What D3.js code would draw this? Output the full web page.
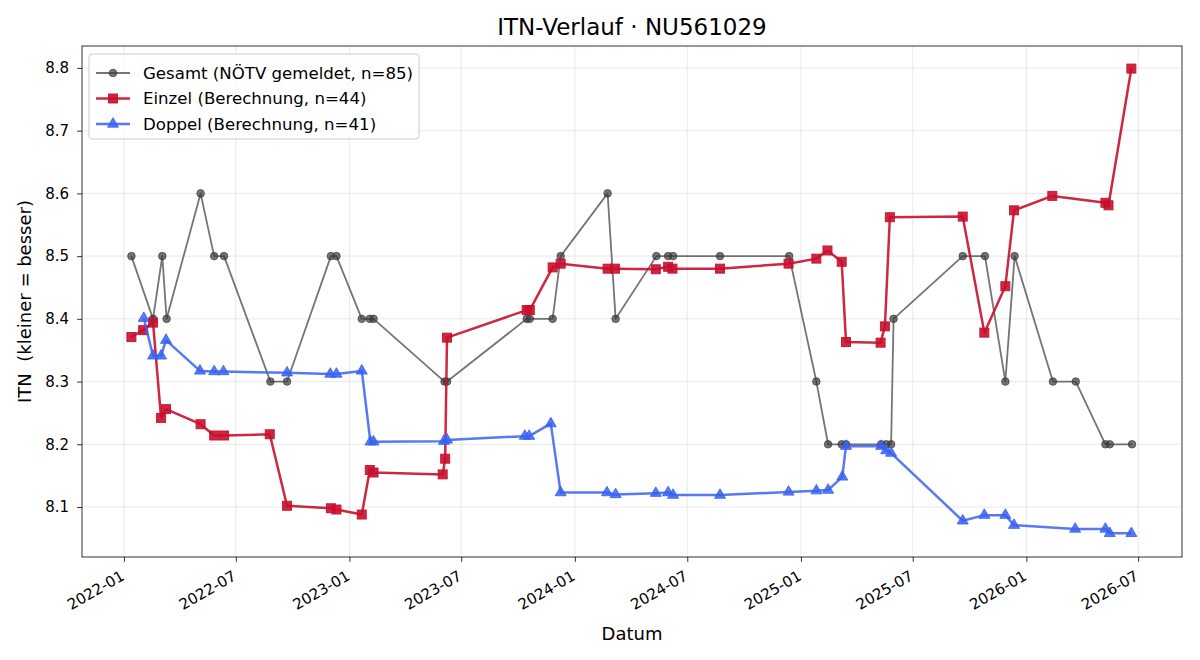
<!DOCTYPE html>
<html>
<head>
<meta charset="utf-8">
<script src="https://cdn.jsdelivr.net/npm/d3@7"></script>
<style>
  body { margin: 0; background: #fff; }
  text { font-family: "DejaVu Sans", sans-serif; }
</style>
</head>
<body>
<div id="chart"></div>
<script>
// Gesamt (NÖTV gemeldet)
var gesamtDates = ["2022-01-13","2022-02-17","2022-03-04","2022-03-11","2022-05-05","2022-05-27","2022-06-12","2022-08-26","2022-09-22","2022-12-02","2022-12-11","2023-01-21","2023-02-03","2023-02-09","2023-06-04","2023-06-08","2023-10-15","2023-10-20","2023-11-26","2023-12-09","2024-02-23","2024-03-07","2024-05-12","2024-05-31","2024-06-08","2024-08-23","2024-12-13","2025-01-26","2025-02-14","2025-03-08","2025-03-15","2025-05-11","2025-05-19","2025-05-27","2025-05-31","2025-09-20","2025-10-26","2025-11-28","2025-12-13","2026-02-13","2026-03-22","2026-05-09","2026-05-16","2026-06-21"];
var gesamtValues = [8.5,8.4,8.5,8.4,8.6,8.5,8.5,8.3,8.3,8.5,8.5,8.4,8.4,8.4,8.3,8.3,8.4,8.4,8.4,8.5,8.6,8.4,8.5,8.5,8.5,8.5,8.5,8.3,8.2,8.2,8.2,8.2,8.2,8.2,8.4,8.5,8.5,8.3,8.5,8.3,8.3,8.2,8.2,8.2];

// Einzel (Berechnung)
var einzelDates = ["2022-01-13","2022-02-01","2022-02-17","2022-03-02","2022-03-10","2022-05-05","2022-05-27","2022-06-12","2022-08-25","2022-09-22","2022-12-02","2022-12-11","2023-01-21","2023-02-03","2023-02-09","2023-06-01","2023-06-05","2023-06-08","2023-10-15","2023-10-20","2023-11-26","2023-12-09","2024-02-23","2024-03-06","2024-05-11","2024-05-31","2024-06-07","2024-08-23","2024-12-12","2025-01-26","2025-02-13","2025-03-08","2025-03-15","2025-05-10","2025-05-17","2025-05-25","2025-09-20","2025-10-25","2025-11-28","2025-12-12","2026-02-12","2026-05-09","2026-05-14","2026-06-20"];
var einzelValues = [8.371,8.382,8.394,8.242,8.256,8.232,8.214,8.214,8.216,8.102,8.098,8.096,8.088,8.159,8.155,8.152,8.177,8.370,8.414,8.414,8.482,8.488,8.480,8.480,8.479,8.483,8.480,8.480,8.488,8.496,8.509,8.491,8.363,8.362,8.388,8.562,8.563,8.378,8.452,8.573,8.596,8.585,8.581,8.799];

// Doppel (Berechnung)
var doppelDates = ["2022-02-02","2022-02-17","2022-03-02","2022-03-10","2022-05-04","2022-05-27","2022-06-11","2022-09-22","2022-12-01","2022-12-11","2023-01-21","2023-02-04","2023-02-09","2023-06-03","2023-06-08","2023-10-12","2023-10-19","2023-11-23","2023-12-09","2024-02-22","2024-03-07","2024-05-11","2024-05-31","2024-06-08","2024-08-23","2024-12-12","2025-01-26","2025-02-14","2025-03-09","2025-03-15","2025-05-11","2025-05-19","2025-05-27","2025-09-20","2025-10-25","2025-11-28","2025-12-12","2026-03-21","2026-05-09","2026-05-16","2026-06-20"];
var doppelValues = [8.401,8.341,8.341,8.366,8.317,8.316,8.316,8.314,8.312,8.312,8.317,8.204,8.204,8.205,8.207,8.213,8.213,8.233,8.123,8.123,8.120,8.122,8.123,8.119,8.119,8.124,8.126,8.127,8.148,8.197,8.197,8.190,8.186,8.078,8.087,8.087,8.071,8.065,8.065,8.058,8.058];

var yTicks = [8.1, 8.2, 8.3, 8.4, 8.5, 8.6, 8.7, 8.8];
var xTickDates = ["2022-01","2022-07","2023-01","2023-07","2024-01","2024-07","2025-01","2025-07","2026-01","2026-07"];
var legendLabels = ["Gesamt (NÖTV gemeldet, n=85)", "Einzel (Berechnung, n=44)", "Doppel (Berechnung, n=41)"];

var parse = d3.timeParse("%Y-%m-%d");
var parseMonth = d3.timeParse("%Y-%m");

function zip(dates, values) {
    return dates.map(function(d, i) { return { date: parse(d), value: values[i] }; });
}

var series = [
    { label: legendLabels[0], data: zip(gesamtDates, gesamtValues), color: "#3a3a3a", opacity: 0.7, width: 1.8, marker: "circle" },
    { label: legendLabels[1], data: zip(einzelDates, einzelValues), color: "#c8102e", opacity: 0.9, width: 2.5, marker: "square" },
    { label: legendLabels[2], data: zip(doppelDates, doppelValues), color: "#3a62f0", opacity: 0.85, width: 2.5, marker: "triangle" }
];

var width = 1200, height = 660;
var margin = { top: 46, right: 18, bottom: 103, left: 82 };
var innerW = width - margin.left - margin.right;
var innerH = height - margin.top - margin.bottom;

var svg = d3.select("#chart").append("svg")
    .attr("width", width)
    .attr("height", height);

var g = svg.append("g")
    .attr("transform", "translate(" + margin.left + "," + margin.top + ")");

var x = d3.scaleTime()
    .domain([parse("2021-10-25"), parse("2026-09-10")])
    .range([0, innerW]);

var y = d3.scaleLinear()
    .domain([8.0203, 8.835])
    .range([innerH, 0]);

// grid
g.append("g").selectAll("line")
    .data(yTicks).enter().append("line")
    .attr("x1", 0).attr("x2", innerW)
    .attr("y1", function(d) { return y(d); }).attr("y2", function(d) { return y(d); })
    .attr("stroke", "#b0b0b0").attr("stroke-opacity", 0.35).attr("stroke-width", 0.8);

g.append("g").selectAll("line")
    .data(xTickDates).enter().append("line")
    .attr("y1", 0).attr("y2", innerH)
    .attr("x1", function(d) { return x(parseMonth(d)); }).attr("x2", function(d) { return x(parseMonth(d)); })
    .attr("stroke", "#b0b0b0").attr("stroke-opacity", 0.35).attr("stroke-width", 0.8);

// axes
var xAxis = g.append("g")
    .attr("transform", "translate(0," + innerH + ")")
    .call(d3.axisBottom(x)
        .tickValues(xTickDates.map(parseMonth))
        .tickFormat(d3.timeFormat("%Y-%m"))
        .tickSize(4.9).tickSizeOuter(0));
xAxis.selectAll("text")
    .style("font-size", "15px")
    .attr("fill", "#000")
    .style("text-anchor", "end")
    .attr("x", 0).attr("y", 0).attr("dy", 0)
    .attr("transform", "translate(1,22) rotate(-30)");

var yAxis = g.append("g")
    .call(d3.axisLeft(y)
        .tickValues(yTicks)
        .tickFormat(d3.format(".1f"))
        .tickSize(4.9).tickPadding(8).tickSizeOuter(0));
yAxis.selectAll("text").style("font-size", "15px").attr("fill", "#000");

g.selectAll(".domain").remove();
g.selectAll(".tick line").attr("stroke", "#000").attr("stroke-width", 0.8);

g.append("rect")
    .attr("width", innerW).attr("height", innerH)
    .attr("fill", "none").attr("stroke", "#000").attr("stroke-width", 0.8);

// lines and markers
var line = d3.line()
    .x(function(d) { return x(d.date); })
    .y(function(d) { return y(d.value); });

function drawMarker(sel, type, color, opacity) {
    var m;
    if (type === "circle") {
        m = sel.append("circle").attr("r", 3.8);
    } else if (type === "square") {
        m = sel.append("rect").attr("x", -4.5).attr("y", -4.5).attr("width", 9).attr("height", 9);
    } else {
        m = sel.append("path").attr("d", d3.symbol().type(d3.symbolTriangle).size(52)());
    }
    m.attr("fill", color).attr("fill-opacity", opacity)
        .attr("stroke", color).attr("stroke-opacity", opacity).attr("stroke-width", 1);
}

series.forEach(function(s) {
    var sg = g.append("g");
    sg.append("path")
        .datum(s.data)
        .attr("d", line)
        .attr("fill", "none")
        .attr("stroke", s.color)
        .attr("stroke-opacity", s.opacity)
        .attr("stroke-width", s.width)
        .attr("stroke-linejoin", "round");
    sg.selectAll("g.pt")
        .data(s.data).enter().append("g")
        .attr("class", "pt")
        .attr("transform", function(d) { return "translate(" + x(d.date) + "," + y(d.value) + ")"; })
        .each(function() { drawMarker(d3.select(this), s.marker, s.color, s.opacity); });
});

// legend
var legend = g.append("g").attr("transform", "translate(7,8)");
legend.append("rect")
    .attr("width", 330).attr("height", 85).attr("rx", 3)
    .attr("fill", "#fff").attr("fill-opacity", 0.8)
    .attr("stroke", "#ccc");

series.forEach(function(s, i) {
    var row = legend.append("g").attr("transform", "translate(0," + (19 + i * 25.5) + ")");
    row.append("line")
        .attr("x1", 7).attr("x2", 41)
        .attr("stroke", s.color).attr("stroke-opacity", s.opacity).attr("stroke-width", s.width);
    var m = row.append("g").attr("transform", "translate(24,0)");
    drawMarker(m, s.marker, s.color, s.opacity);
    row.append("text")
        .attr("x", 54).attr("y", 0).attr("dy", "0.35em")
        .style("font-size", "16.6px")
        .text(s.label);
});

// title and labels
svg.append("text")
    .attr("x", margin.left + innerW / 2).attr("y", 35)
    .attr("text-anchor", "middle")
    .style("font-size", "23px")
    .text("ITN-Verlauf · NU561029");

svg.append("text")
    .attr("x", margin.left + innerW / 2).attr("y", 640)
    .attr("text-anchor", "middle")
    .style("font-size", "18px")
    .text("Datum");

svg.append("text")
    .attr("transform", "translate(31," + (margin.top + innerH / 2) + ") rotate(-90)")
    .attr("text-anchor", "middle")
    .style("font-size", "18px")
    .style("white-space", "pre")
    .text("ITN  (kleiner = besser)");
</script>
</body>
</html>
